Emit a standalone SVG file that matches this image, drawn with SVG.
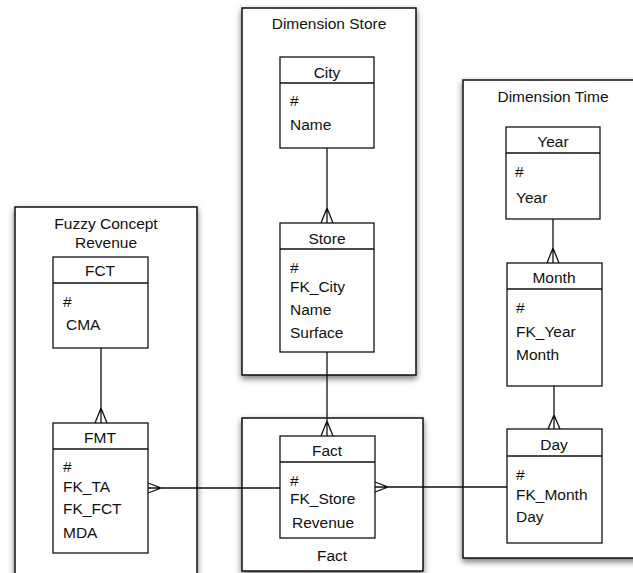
<svg xmlns="http://www.w3.org/2000/svg" width="633" height="573" viewBox="0 0 633 573">
  <defs>
    <filter id="shadow" x="-20%" y="-20%" width="140%" height="140%">
      <feDropShadow dx="0" dy="3" stdDeviation="3" flood-color="#000" flood-opacity="0.55"/>
    </filter>
  </defs>
  <style>
    .pkg { fill: #fff; stroke: #111; stroke-width: 1.5; filter: url(#shadow); }
    .ent { fill: #fff; stroke: #111; stroke-width: 1.3; }
    .sep { stroke: #111; stroke-width: 1.3; }
    .lnk { fill: none; stroke: #111; stroke-width: 1.3; }
    text { font-family: "Liberation Sans", Arial, Helvetica, sans-serif; font-size: 15.5px; fill: #111; }
    .c { text-anchor: middle; }
  </style>

  <rect width="633" height="573" fill="#fff"/>

  <!-- packages -->
  <g id="pkg-store">
    <rect class="pkg" x="242" y="8" width="174" height="367"/>
    <text class="c" x="329" y="29">Dimension Store</text>
  </g>
  <g id="pkg-time">
    <rect class="pkg" x="463" y="80" width="180" height="478"/>
    <text class="c" x="553" y="102">Dimension Time</text>
  </g>
  <g id="pkg-fuzzy">
    <rect class="pkg" x="15" y="207" width="182" height="380"/>
    <text class="c" x="106" y="229">Fuzzy Concept</text>
    <text class="c" x="106" y="248">Revenue</text>
  </g>
  <g id="pkg-fact">
    <rect class="pkg" x="242" y="418" width="181" height="153"/>
    <text class="c" x="332" y="561">Fact</text>
  </g>

  <!-- entities -->
  <g id="city">
    <rect class="ent" x="280" y="57" width="94" height="91"/>
    <line class="sep" x1="280" y1="83" x2="374" y2="83"/>
    <text class="c" x="327" y="78">City</text>
    <text x="290" y="106">#</text>
    <text x="290" y="130">Name</text>
  </g>
  <g id="store">
    <rect class="ent" x="280" y="223" width="94" height="129"/>
    <line class="sep" x1="280" y1="249" x2="374" y2="249"/>
    <text class="c" x="327" y="244">Store</text>
    <text x="290" y="273">#</text>
    <text x="290" y="292">FK_City</text>
    <text x="290" y="315">Name</text>
    <text x="290" y="338">Surface</text>
  </g>
  <g id="fct">
    <rect class="ent" x="53" y="257" width="95" height="91"/>
    <line class="sep" x1="53" y1="283" x2="148" y2="283"/>
    <text class="c" x="100" y="276">FCT</text>
    <text x="63" y="307">#</text>
    <text x="66" y="330">CMA</text>
  </g>
  <g id="fmt">
    <rect class="ent" x="53" y="423" width="95" height="130"/>
    <line class="sep" x1="53" y1="449" x2="148" y2="449"/>
    <text class="c" x="100" y="443">FMT</text>
    <text x="63" y="472">#</text>
    <text x="63" y="492">FK_TA</text>
    <text x="63" y="514">FK_FCT</text>
    <text x="63" y="538">MDA</text>
  </g>
  <g id="fact">
    <rect class="ent" x="280" y="436" width="95" height="102"/>
    <line class="sep" x1="280" y1="462" x2="375" y2="462"/>
    <text class="c" x="327" y="456">Fact</text>
    <text x="290" y="486">#</text>
    <text x="290" y="504">FK_Store</text>
    <text x="292" y="528">Revenue</text>
  </g>
  <g id="year">
    <rect class="ent" x="506" y="127" width="94" height="92"/>
    <line class="sep" x1="506" y1="153" x2="600" y2="153"/>
    <text class="c" x="553" y="147">Year</text>
    <text x="515" y="177">#</text>
    <text x="516" y="203">Year</text>
  </g>
  <g id="month">
    <rect class="ent" x="507" y="263" width="95" height="123"/>
    <line class="sep" x1="507" y1="289" x2="602" y2="289"/>
    <text class="c" x="554" y="283">Month</text>
    <text x="516" y="313">#</text>
    <text x="516" y="337">FK_Year</text>
    <text x="516" y="360">Month</text>
  </g>
  <g id="day">
    <rect class="ent" x="507" y="429" width="95" height="114"/>
    <line class="sep" x1="507" y1="456" x2="602" y2="456"/>
    <text class="c" x="554" y="450">Day</text>
    <text x="516" y="480">#</text>
    <text x="516" y="500">FK_Month</text>
    <text x="516" y="522">Day</text>
  </g>

  <!-- connectors with crow's-foot ends -->
  <g id="connectors">
    <path class="lnk" d="M327,148 V223 M321,223 L327,208 L333,223"/>
    <path class="lnk" d="M327,352 V436 M321,436 L327,421 L333,436"/>
    <path class="lnk" d="M101,348 V423 M95,423 L101,408 L107,423"/>
    <path class="lnk" d="M553,219 V263 M547,263 L553,248 L559,263"/>
    <path class="lnk" d="M554,386 V429 M548,429 L554,415 L560,429"/>
    <path class="lnk" d="M148,488 H280 M148,483 L161,488 L148,493"/>
    <path class="lnk" d="M375,487 H507 M375,482 L388,487 L375,492"/>
  </g>
</svg>
